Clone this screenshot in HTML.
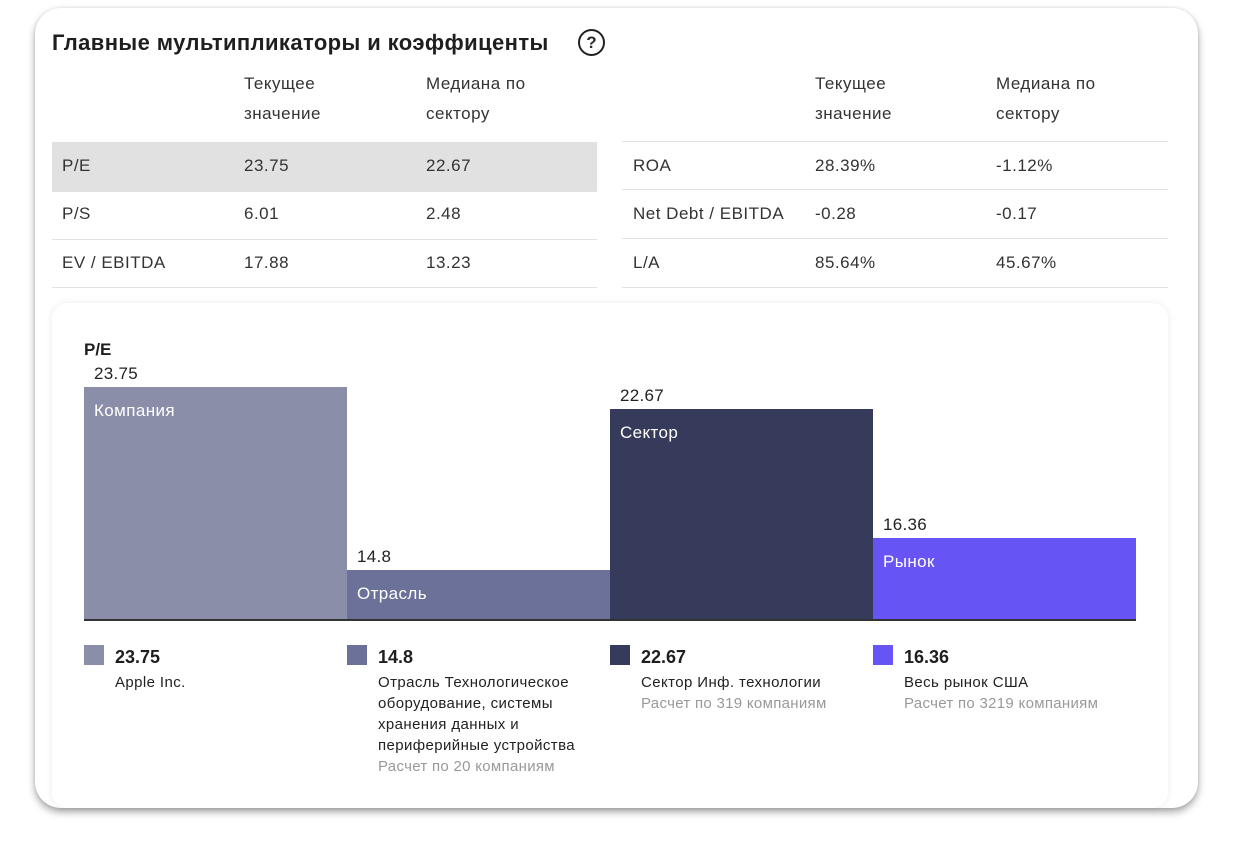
<!DOCTYPE html>
<html><head><meta charset="utf-8"><style>
*{box-sizing:border-box;margin:0;padding:0}
body{width:1235px;height:852px;background:#fff;font-family:"Liberation Sans","Noto Sans CJK SC",sans-serif;color:#2a2a2a;position:relative;overflow:hidden}
.card{position:absolute;left:35px;top:8px;width:1163px;height:800px;border-radius:26px;background:#fff;box-shadow:0 4px 8px rgba(0,0,0,.35),0 0 3px rgba(0,0,0,.1)}
.abs{position:absolute;white-space:nowrap}
.t{font-size:17px;letter-spacing:0.5px;color:#333}
.row{position:absolute;height:49px;border-bottom:1px solid #e2e2e2}
.inner{position:absolute;left:52px;top:303px;width:1116px;height:505px;border-radius:16px;background:#fff;box-shadow:0 0 8px rgba(0,0,0,.08)}
</style></head><body>
<div class="card"></div>
<div class="abs" style="left:52px;top:30px;font-size:22px;letter-spacing:0.4px;font-weight:bold;color:#1e1e1e">Главные мультипликаторы и коэффиценты</div>
<div class="abs" style="left:578px;top:29px;width:27px;height:27px;border:2px solid #222;border-radius:50%;text-align:center;font-size:17px;line-height:23px;font-weight:bold">?</div>

<div class="abs t" style="left:244px;top:69px;line-height:30px">Текущее<br>значение</div>
<div class="abs t" style="left:426px;top:69px;line-height:30px">Медиана по<br>сектору</div>
<div class="abs t" style="left:815px;top:69px;line-height:30px">Текущее<br>значение</div>
<div class="abs t" style="left:996px;top:69px;line-height:30px">Медиана по<br>сектору</div>

<div class="row" style="left:52px;top:142px;width:545px;background:#e1e1e1;border-bottom:none"></div>
<div class="row" style="left:52px;top:191px;width:545px;border-top:1px solid #e2e2e2"></div>
<div class="row" style="left:52px;top:239px;width:545px"></div>
<div class="row" style="left:622px;top:141px;width:546px;border-top:1px solid #e2e2e2"></div>
<div class="row" style="left:622px;top:190px;width:546px"></div>
<div class="row" style="left:622px;top:239px;width:546px"></div>

<div class="abs t" style="left:62px;top:156px">P/E</div>
<div class="abs t" style="left:244px;top:156px">23.75</div>
<div class="abs t" style="left:426px;top:156px">22.67</div>
<div class="abs t" style="left:62px;top:204px">P/S</div>
<div class="abs t" style="left:244px;top:204px">6.01</div>
<div class="abs t" style="left:426px;top:204px">2.48</div>
<div class="abs t" style="left:62px;top:253px">EV / EBITDA</div>
<div class="abs t" style="left:244px;top:253px">17.88</div>
<div class="abs t" style="left:426px;top:253px">13.23</div>
<div class="abs t" style="left:633px;top:156px">ROA</div>
<div class="abs t" style="left:815px;top:156px">28.39%</div>
<div class="abs t" style="left:996px;top:156px">-1.12%</div>
<div class="abs t" style="left:633px;top:204px">Net Debt / EBITDA</div>
<div class="abs t" style="left:815px;top:204px">-0.28</div>
<div class="abs t" style="left:996px;top:204px">-0.17</div>
<div class="abs t" style="left:633px;top:253px">L/A</div>
<div class="abs t" style="left:815px;top:253px">85.64%</div>
<div class="abs t" style="left:996px;top:253px">45.67%</div>

<div class="inner"></div>
<div class="abs" style="left:84px;top:340px;font-size:17px;font-weight:bold;color:#1e1e1e">P/E</div>
<div id="chart"></div>

<script>
const categories = ["Компания","Отрасль","Сектор","Рынок"];
const values = [23.75, 14.8, 22.67, 16.36];
const valueLabels = ["23.75","14.8","22.67","16.36"];
const legendNames = [["Apple Inc."],["Отрасль Технологическое","оборудование, системы","хранения данных и","периферийные устройства"],["Сектор Инф. технологии"],["Весь рынок США"]];
const legendNotes = ["","Расчет по 20 компаниям","Расчет по 319 компаниям","Расчет по 3219 компаниям"];
const colors = ["#8a8ea9","#6b7199","#363a5b","#6655f4"];

const baseY = 620, x0 = 84, bw = 263;
const dMin = 12.35, dMax = 23.75, topY = 387;
function y(v){ return baseY - (v - dMin) / (dMax - dMin) * (baseY - topY); }
const c = document.getElementById('chart');
function mk(tag, css, txt){ const e=document.createElement(tag); e.style.cssText='position:absolute;white-space:nowrap;'+css; if(txt!==undefined) e.textContent=txt; c.appendChild(e); return e; }
values.forEach((v,i)=>{
  const x = x0 + i*bw, t = y(v);
  const b = mk('div', `left:${x}px;top:${t}px;width:${bw}px;height:${baseY-t}px;background:${colors[i]}`);
  
  
  const vl = mk('div', `left:${x+10}px;top:${t-23}px;font-size:17px;letter-spacing:0.3px;color:#222`, valueLabels[i]);
  
  
  const cl = mk('div', `left:${x+10}px;top:${t+14}px;font-size:17px;letter-spacing:0.4px;color:#fff`, categories[i]);
  
  
  const sw = mk('div', `left:${x}px;top:645px;width:20px;height:20px;background:${colors[i]}`);
  
  
  const lv = mk('div', `left:${x+31}px;top:647px;font-size:18px;font-weight:bold;color:#1e1e1e`, valueLabels[i]);
  
  
  const ld = mk('div', `left:${x+31}px;top:672px;font-size:15px;letter-spacing:0.4px;line-height:21px;color:#222`);
  ld.innerHTML = legendNames[i].join('<br>');
  
  
  if(legendNotes[i]){
    const ln = mk('div', `left:${x+31}px;top:${672+legendNames[i].length*21}px;font-size:15px;letter-spacing:0.3px;line-height:21px;color:#999`, legendNotes[i]);
    
    
  }
});
const ax = mk('div', `left:${x0}px;top:${baseY-1}px;width:${bw*4}px;height:2px;background:#333`);


</script>
</body></html>
